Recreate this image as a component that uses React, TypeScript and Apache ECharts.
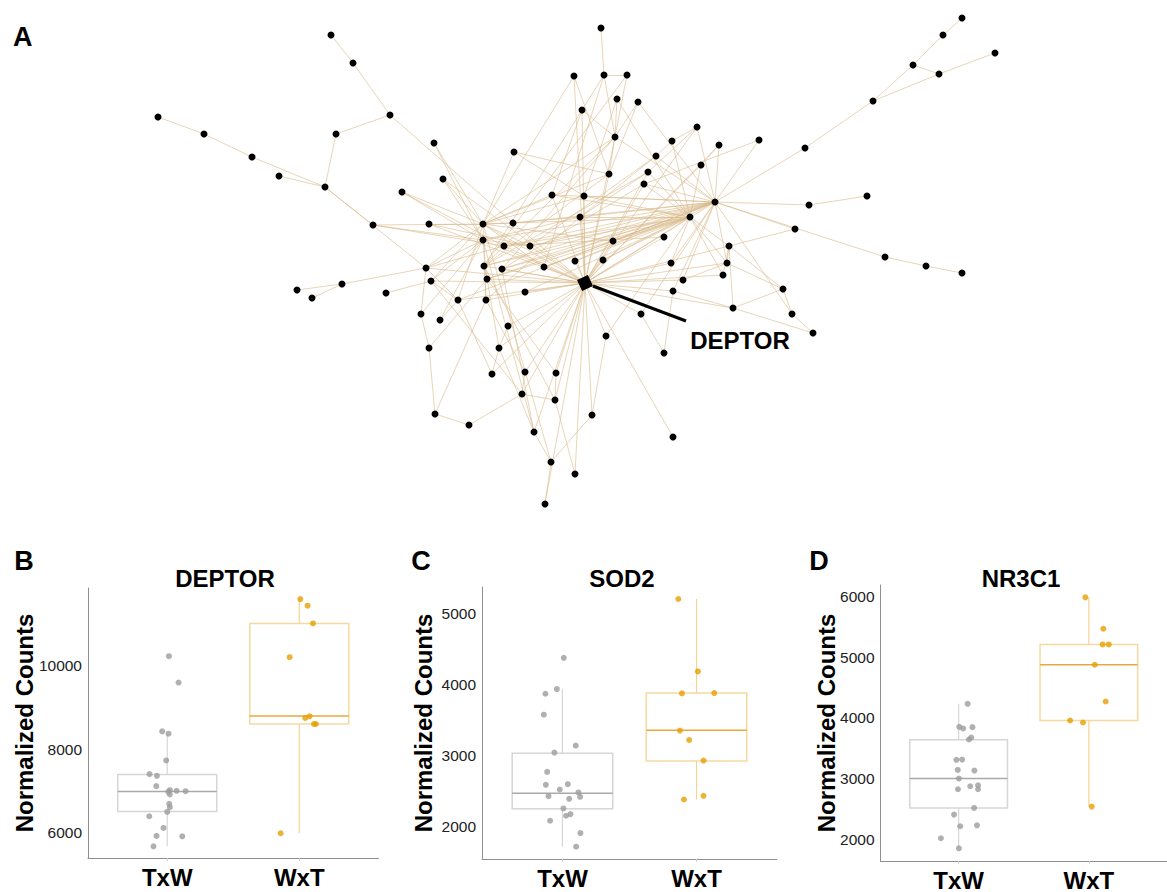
import React, { useEffect, useRef } from "react";
import * as echarts from "echarts";

// ---------------- Network (panel A) ----------------
const nodeX = [585,331,353,390,158,204,336,434,252,279,325,443,402,373,429,483,483,601,574,604,627,617,638,582,615,514,697,672,719,759,656,701,648,609,644,552,584,715,690,580,513,809,867,795,805,873,913,939,943,962,995,664,613,504,530,729,885,926,962,426,484,502,544,575,603,487,431,342,297,312,386,525,458,486,421,440,641,508,606,429,499,492,525,556,522,555,592,435,469,534,551,575,545,671,727,683,723,673,733,783,792,813,664,673];
const nodeY = [283,35,63,115,117,134,134,143,157,176,187,179,192,225,224,224,240,28,76,75,75,99,102,110,137,152,127,141,145,140,156,165,172,174,184,195,196,202,217,217,223,205,196,229,148,101,65,74,35,18,53,237,241,246,246,246,257,266,273,268,266,269,267,261,260,279,281,284,290,298,293,292,300,300,314,320,314,326,336,348,348,374,372,373,394,400,415,414,425,432,462,474,504,263,263,280,275,291,308,289,314,333,353,437];
const hubIndex = 0;
const hubLabel = "DEPTOR";
const edges: [number, number][] = [
  [1,2],[2,3],[3,6],[6,10],[4,5],[5,8],[8,10],[9,10],[10,13],[10,59],[3,40],
  [7,15],[11,15],[11,16],[12,15],[12,53],[13,16],[13,53],[14,15],[14,54],
  [17,19],[19,20],[18,33],[19,23],[19,24],[20,24],[21,24],[22,24],[22,33],[23,24],[23,35],
  [24,33],[24,37],[24,60],[24,15],[21,36],[25,33],[25,36],
  [26,27],[26,37],[26,32],[27,30],[28,37],[28,31],[29,34],[30,54],[30,39],[31,38],
  [32,39],[32,60],[33,0],[34,38],[34,61],[35,37],[35,15],[36,37],[36,15],[39,38],[40,0],
  [41,42],[41,37],[43,37],[43,55],[44,37],[44,45],[45,46],[45,47],[46,47],[46,48],[48,49],[47,50],
  [56,57],[57,58],[56,37],
  [51,0],[51,53],[52,37],[52,15],[53,0],[54,37],[55,0],[55,38],[60,0],[61,0],[62,38],[63,0],
  [64,37],[65,38],[66,0],[71,0],[72,0],[73,0],
  [59,67],[67,68],[67,69],[70,66],[59,15],[59,0],[59,72],[59,74],[59,53],[59,16],[66,72],[66,16],
  [74,79],[79,87],[87,88],[88,84],[84,85],[84,82],[85,83],[80,89],[89,90],[90,92],[90,86],[86,78],[91,85],
  [75,72],[77,80],[77,0],[81,80],[81,0],[102,76],[76,0],[103,0],[78,0],[80,0],[82,0],[83,0],[84,0],[85,0],
  [93,38],[94,99],[94,38],[94,37],[95,94],[96,38],[97,98],[98,99],[99,100],[100,101],[98,55],[97,0],[95,0],
  [15,0],[16,0],[54,0],[62,0],[64,0],[65,0],[39,0],[35,0],[36,0],[24,0],[23,0],[18,0],[34,0],[32,0],
  [37,0],[38,0],[93,0],[94,0],[52,0],[89,0],[91,0],[86,0],[96,0],[98,0],
  [15,40],[15,54],[15,62],[16,54],[16,39],[53,38],[40,39],[60,37],[35,38],[36,38],[52,38],[53,37],
  [61,37],[63,38],[66,15],[73,15],[73,39],[71,38],[72,37],[60,38],[61,38],[65,37],[62,37],
  [54,38],[40,37],[15,38],[16,37],[72,15],[73,60],[65,16],[65,60],[74,16],[75,16],[79,65],[80,65],
  [81,72],[82,73],[83,65],[84,66],[85,60],[87,73],[89,61],[89,16],[90,15],[92,0],[78,38],[76,37],
  [102,97],[93,37],[95,37],[97,37],[94,55],[96,55],[99,55],[100,37],[101,98],[63,37],[64,38],
  [33,60],[33,15],[24,61],[23,60],[18,15],[19,62],[20,60],[21,38],[22,37],[30,37],[31,0],[28,0],
  [26,0],[27,38],[29,37],[32,38],[34,37],[39,37],[25,15],[14,0],[13,15],[12,16],[11,0],[7,16],
];

// ---------------- Boxplots (panels B, C, D) ----------------
const groups = ["TxW", "WxT"];

// [min, Q1, median, Q3, max]
const deptorBoxTxW = [5680, 6512, 6992, 7400, 8376];
const deptorBoxWxT = [5992, 8608, 8800, 11016, 11600];
const deptorTxW = [10232,9600,8432,8376,7736,7408,7368,7120,7024,7008,7000,6984,6920,6696,6616,6504,6400,6120,5928,5920,5680];
const deptorTxWJitter = [0.013,0.086,-0.038,0.010,-0.008,-0.134,-0.078,-0.083,0.020,0.071,0.139,0.008,0.020,0.015,0.020,0.0,-0.136,-0.028,-0.081,0.114,-0.104];
const deptorWxT = [11600,11440,11016,10208,8792,8752,8608,8608,5992];
const deptorWxTJitter = [0.008,0.063,0.104,-0.073,0.078,0.045,0.111,0.126,-0.141];

const sod2BoxTxW = [1719, 2253, 2473, 3036, 3941];
const sod2BoxWxT = [2384, 2928, 3359, 3884, 5211];
const sod2TxW = [4381,3941,3875,3580,3045,3144,2773,2591,2600,2525,2483,2431,2394,2422,2258,2155,2178,2084,1911,1719];
const sod2TxWJitter = [0.010,-0.042,-0.127,-0.139,-0.060,0.099,-0.114,-0.124,0.040,-0.020,0.119,-0.104,0.050,0.132,0.007,0.027,0.060,-0.092,0.134,0.102];
const sod2WxT = [5211,4189,3880,3884,3355,3223,2933,2436,2384];
const sod2WxTJitter = [-0.136,0.010,-0.109,0.132,-0.124,-0.055,0.052,0.052,-0.094];

const nr3c1BoxTxW = [1851, 2517, 3001, 3640, 4234];
const nr3c1BoxWxT = [2539, 3959, 4878, 5213, 5989];
const nr3c1TxW = [4234,3854,3827,3849,3645,3678,3310,3315,3144,3133,3001,2875,2891,2825,2825,2517,2407,2215,2231,2017,1851];
const nr3c1TxWJitter = [0.069,0.005,0.035,0.106,0.079,0.097,-0.017,0.027,-0.007,0.121,0.002,0.089,0.149,0.149,-0.005,0.119,-0.035,0.012,0.141,-0.136,0.002];
const nr3c1WxT = [5989,5472,5213,5213,4878,4272,3959,3926,2539];
const nr3c1WxTJitter = [-0.027,0.111,0.106,0.153,0.045,0.129,-0.144,-0.045,0.022];

const deptorTicks = [6000, 8000, 10000];
const sod2Ticks = [2000, 3000, 4000, 5000];
const nr3c1Ticks = [2000, 3000, 4000, 5000, 6000];

const FONT = "'Liberation Sans', Arial, Helvetica, sans-serif";
const GRAY = "#9c9c9c";
const GOLD = "#E69F00";

const panels = [
  { title: "DEPTOR", letter: "B", boxT: deptorBoxTxW, boxW: deptorBoxWxT, ptsT: deptorTxW, jitT: deptorTxWJitter, ptsW: deptorWxT, jitW: deptorWxTJitter, ticks: deptorTicks, ymin: 5400, ymax: 11864,
    grid: { left: 88, top: 588, width: 290.5, height: 270 }, titleX: 225, letterX: 24, yTitleX: 24 },
  { title: "SOD2", letter: "C", boxT: sod2BoxTxW, boxW: sod2BoxWxT, ptsT: sod2TxW, jitT: sod2TxWJitter, ptsW: sod2WxT, jitW: sod2WxTJitter, ticks: sod2Ticks, ymin: 1545, ymax: 5380,
    grid: { left: 482, top: 587, width: 295, height: 272 }, titleX: 622, letterX: 421, yTitleX: 423 },
  { title: "NR3C1", letter: "D", boxT: nr3c1BoxTxW, boxW: nr3c1BoxWxT, ptsT: nr3c1TxW, jitT: nr3c1TxWJitter, ptsW: nr3c1WxT, jitW: nr3c1WxTJitter, ticks: nr3c1Ticks, ymin: 1642, ymax: 6193,
    grid: { left: 880.5, top: 585, width: 296.5, height: 276 }, titleX: 1021, letterX: 819, yTitleX: 826 },
];

const boxStyle = [
  { stroke: "#d6d6d6", median: "#a9a9a9", whisker: "#d6d6d6" },
  { stroke: "#f6d9a0", median: "#e9a93a", whisker: "#f3d397" },
];

export default function App() {
  const ref = useRef<HTMLDivElement>(null);
  useEffect(() => {
    if (!ref.current) return;
    const chart = echarts.init(ref.current, null, { renderer: "svg" });

    const grids: any[] = [];
    const xAxes: any[] = [];
    const yAxes: any[] = [];
    const series: any[] = [];
    const graphics: any[] = [];

    // network
    series.push({
      type: "graph",
      layout: "none",
      left: 158, top: 18, width: 837, height: 486,
      roam: false,
      silent: true,
      animation: false,
      data: nodeX.map((x, i) => ({
        x, y: nodeY[i],
        symbol: i === hubIndex ? "rect" : "circle",
        symbolSize: i === hubIndex ? 12 : 7,
        symbolRotate: i === hubIndex ? 25 : 0,
      })),
      links: edges.map(([s, t]) => ({ source: s, target: t })),
      itemStyle: { color: "#000" },
      lineStyle: { color: "#d9b98a", opacity: 0.6, width: 1 },
      label: { show: false },
      emphasis: { disabled: true },
      z: 2,
    });

    graphics.push(
      { type: "text", left: 13, top: 23, style: { text: "A", font: `bold 27px ${FONT}`, fill: "#000" } },
      { type: "line", shape: { x1: 593, y1: 286, x2: 686, y2: 321 }, style: { stroke: "#000", lineWidth: 3 }, z: 10 },
      { type: "text", x: 740, y: 340, style: { text: hubLabel, font: `bold 24px ${FONT}`, fill: "#000", textAlign: "center", textVerticalAlign: "middle" }, z: 10 },
    );

    panels.forEach((p, gi) => {
      grids.push({ ...p.grid, containLabel: false });
      xAxes.push({
        type: "value", gridIndex: gi, min: 0.4, max: 2.6,
        axisLine: { show: true, lineStyle: { color: "#8f8f8f", width: 1 } },
        axisTick: { show: true, customValues: [1, 2], length: 3, lineStyle: { color: "#d0d0d0" } },
        axisLabel: {
          show: true, customValues: [1, 2], formatter: (v: number) => groups[Math.round(v) - 1] || "",
          fontFamily: FONT, fontSize: 24, fontWeight: "bold", color: "#000", margin: 7,
        },
        splitLine: { show: false },
      });
      yAxes.push({
        type: "value", gridIndex: gi, min: p.ymin, max: p.ymax,
        axisLine: { show: true, lineStyle: { color: "#8f8f8f", width: 1 } },
        axisTick: { show: false, customValues: p.ticks },
        axisLabel: { show: true, customValues: p.ticks, formatter: (v: number) => String(v), fontFamily: FONT, fontSize: 15.5, color: "#222", margin: 6 },
        splitLine: { show: false },
      });

      const boxData = [[1, ...p.boxT], [2, ...p.boxW]];
      series.push({
        type: "custom", xAxisIndex: gi, yAxisIndex: gi, silent: true, z: 3,
        data: boxData,
        encode: { x: 0, y: [1, 2, 3, 4, 5] },
        renderItem: (params: any, api: any) => {
          const x = api.value(0);
          const mn = api.value(1), q1 = api.value(2), md = api.value(3), q3 = api.value(4), mx = api.value(5);
          const st = boxStyle[params.dataIndex];
          const pTL = api.coord([x - 0.375, q3]);
          const pBR = api.coord([x + 0.375, q1]);
          const pMx = api.coord([x, mx]);
          const pQ3 = api.coord([x, q3]);
          const pQ1 = api.coord([x, q1]);
          const pMn = api.coord([x, mn]);
          const mL = api.coord([x - 0.375, md]);
          const mR = api.coord([x + 0.375, md]);
          return {
            type: "group",
            children: [
              { type: "line", shape: { x1: pMx[0], y1: pMx[1], x2: pQ3[0], y2: pQ3[1] }, style: { stroke: st.whisker, lineWidth: 1.2 } },
              { type: "line", shape: { x1: pQ1[0], y1: pQ1[1], x2: pMn[0], y2: pMn[1] }, style: { stroke: st.whisker, lineWidth: 1.2 } },
              { type: "rect", shape: { x: pTL[0], y: pTL[1], width: pBR[0] - pTL[0], height: pBR[1] - pTL[1] }, style: { fill: "none", stroke: st.stroke, lineWidth: 1.5 } },
              { type: "line", shape: { x1: mL[0], y1: mL[1], x2: mR[0], y2: mR[1] }, style: { stroke: st.median, lineWidth: 1.5 } },
            ],
          };
        },
      });
      series.push({
        type: "scatter", xAxisIndex: gi, yAxisIndex: gi, silent: true, z: 5,
        symbolSize: 6, itemStyle: { color: GRAY },
        data: p.ptsT.map((v, i) => [1 + p.jitT[i], v]),
      });
      series.push({
        type: "scatter", xAxisIndex: gi, yAxisIndex: gi, silent: true, z: 5,
        symbolSize: 6, itemStyle: { color: GOLD },
        data: p.ptsW.map((v, i) => [2 + p.jitW[i], v]),
      });

      const axisMid = p.grid.top + p.grid.height / 2;
      graphics.push(
        { type: "text", x: p.letterX, y: 561, style: { text: p.letter, font: `bold 27px ${FONT}`, fill: "#000", textAlign: "center", textVerticalAlign: "middle" } },
        { type: "text", x: p.titleX, y: 578, style: { text: p.title, font: `bold 24px ${FONT}`, fill: "#000", textAlign: "center", textVerticalAlign: "middle" } },
        { type: "text", x: p.yTitleX, y: axisMid, rotation: Math.PI / 2, style: { text: "Normalized Counts", font: `bold 24px ${FONT}`, fill: "#000", textAlign: "center", textVerticalAlign: "middle" } },
      );
    });

    chart.setOption({
      animation: false,
      backgroundColor: "#fff",
      grid: grids,
      xAxis: xAxes,
      yAxis: yAxes,
      series,
      graphic: graphics,
    });
    return () => chart.dispose();
  }, []);
  return <div ref={ref} style={{ position: "absolute", left: 0, top: 0, width: 1167, height: 892 }} />;
}
